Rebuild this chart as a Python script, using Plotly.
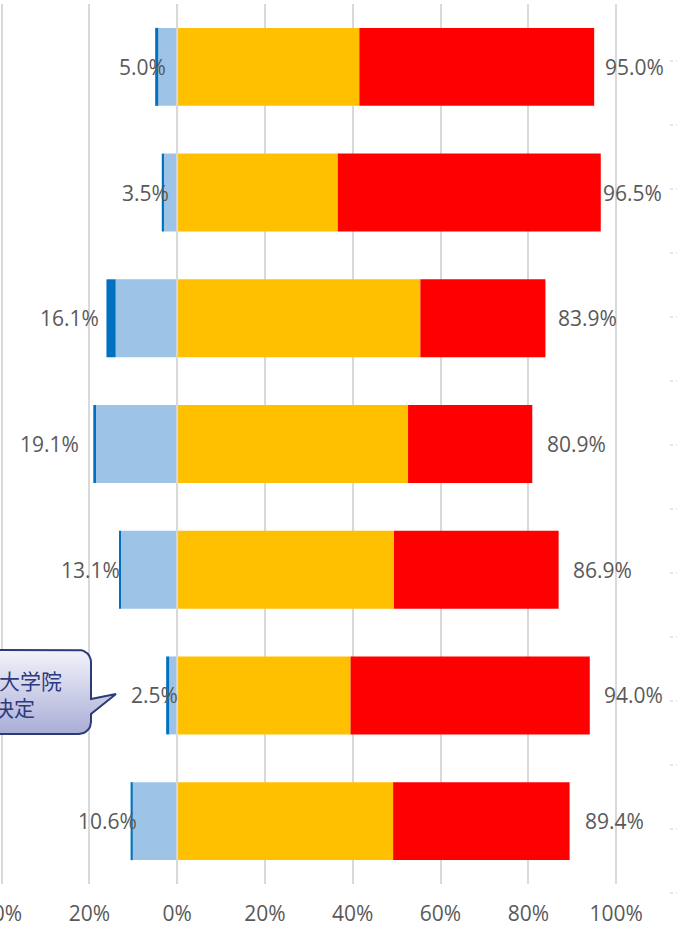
import math
import plotly.graph_objects as go

# Share of respondents per group (percent); rows listed top to bottom
rows = [0, 1, 2, 3, 4, 5, 6]
neg_dark = [0.7, 0.5, 2.1, 0.4, 0.3, 0.7, 0.5]
neg_light = [4.3, 3.0, 14.0, 18.7, 12.8, 1.8, 10.1]
pos_orange = [41.5, 36.6, 55.4, 52.6, 49.4, 39.5, 49.2]
pos_red = [53.5, 59.9, 28.5, 28.3, 37.5, 54.5, 40.2]

tick_vals = [-40, -20, 0, 20, 40, 60, 80, 100]
tick_text = ["40%", "20%", "0%", "20%", "40%", "60%", "80%", "100%"]

# Pixel nudges for the value labels (left side / right side)
left_shift = [13, 9, -5, -12, 2, 14, 8]
right_shift = [9, 0, 11, 13, 12, 12, 13]

W, H = 677, 926
M_T, M_B = 4, 42
X_MIN = -40.35
PX_PER_PCT = 4.39
X_MAX = X_MIN + W / PX_PER_PCT
N = len(rows)
ROW_PX = (H - M_T - M_B) / N

GREY = "#595959"
FONT = "Open Sans"
FS = 21
BAR_W = 0.62


def px_x(px):
    return X_MIN + px / PX_PER_PCT


def px_y(py):
    return (py - M_T) / ROW_PX - 0.5


fig = go.Figure()

fig.add_trace(go.Bar(y=rows, x=[-v for v in neg_light], orientation="h", width=BAR_W,
                     marker=dict(color="#9DC3E6", line=dict(width=0)), hoverinfo="skip"))
fig.add_trace(go.Bar(y=rows, x=[-v for v in neg_dark], orientation="h", width=BAR_W,
                     marker=dict(color="#0070C0", line=dict(width=0)), hoverinfo="skip"))
fig.add_trace(go.Bar(y=rows, x=pos_orange, orientation="h", width=BAR_W,
                     marker=dict(color="#FFC000", line=dict(width=0)), hoverinfo="skip"))
fig.add_trace(go.Bar(y=rows, x=pos_red, orientation="h", width=BAR_W,
                     marker=dict(color="#FF0000", line=dict(width=0)), hoverinfo="skip"))

annotations = []
for i, r in enumerate(rows):
    left_total = neg_dark[i] + neg_light[i]
    right_total = pos_orange[i] + pos_red[i]
    annotations.append(dict(x=-left_total, y=r, xref="x", yref="y", text=f"{left_total:.1f}%",
                            showarrow=False, xanchor="right", yanchor="middle",
                            xshift=left_shift[i], font=dict(family=FONT, size=FS, color=GREY)))
    annotations.append(dict(x=right_total, y=r, xref="x", yref="y", text=f"{right_total:.1f}%",
                            showarrow=False, xanchor="left", yanchor="middle",
                            xshift=right_shift[i], font=dict(family=FONT, size=FS, color=GREY)))

# Speech-bubble callout near the sixth row
bx0, by0, bx1, by1, rad = -80, 650, 91, 734, 12
ptr_top, ptr_bot, tip = 699, 714, (116, 694)
pts = []


def arc(cx, cy, a0, a1, n=8):
    for k in range(n + 1):
        a = math.radians(a0 + (a1 - a0) * k / n)
        pts.append((cx + rad * math.cos(a), cy + rad * math.sin(a)))


pts.append((bx0, by0))
arc(bx1 - rad, by0 + rad, -90, 0)
pts.append((bx1, ptr_top))
pts.append(tip)
pts.append((bx1, ptr_bot))
arc(bx1 - rad, by1 - rad, 0, 90)
pts.append((bx0, by1))
pts.append((bx0, by0))
fig.add_trace(go.Scatter(
    x=[px_x(p[0]) for p in pts], y=[px_y(p[1]) for p in pts],
    mode="lines", fill="toself", line=dict(color="#2E3A78", width=2),
    fillgradient=dict(type="vertical", start=px_y(by0), stop=px_y(by1),
                      colorscale=[[0, "#F3F3FB"], [1, "#A9ADD6"]]),
    hoverinfo="skip", showlegend=False, cliponaxis=False))

CJK = dict(family="Noto Sans CJK JP", size=21, color="#2E3A80")
annotations.append(dict(x=px_x(2), y=px_y(680), xref="x", yref="y", text="大学院",
                        showarrow=False, xanchor="left", yanchor="middle", xshift=-5,
                        font=CJK))
annotations.append(dict(x=px_x(37), y=px_y(707), xref="x", yref="y", text="決定",
                        showarrow=False, xanchor="right", yanchor="middle", font=CJK))

shapes = [dict(type="line", xref="x", yref="paper", x0=0, x1=0, y0=0, y1=1,
               line=dict(color="#D9D9D9", width=2), layer="above")]
# faint separator dashes at the right edge
py = 61
while py < H - 30:
    yp = 1 - (py - M_T) / (H - M_T - M_B)
    shapes.append(dict(type="line", xref="paper", yref="paper", x0=(W - 7) / W, x1=1,
                       y0=yp, y1=yp, line=dict(color="#C8CEE6", width=1, dash="dot")))
    py += 64

fig.update_layout(
    width=W, height=H, barmode="relative", showlegend=False,
    margin=dict(l=0, r=0, t=M_T, b=M_B, autoexpand=False),
    paper_bgcolor="white", plot_bgcolor="white",
    annotations=annotations, shapes=shapes,
    xaxis=dict(range=[X_MIN, X_MAX], tickvals=tick_vals, ticktext=tick_text,
               showgrid=True, gridcolor="#D9D9D9", gridwidth=2, zeroline=False,
               showline=False, ticks="", ticklabelstandoff=15,
               ticklabeloverflow="allow", automargin=False,
               tickfont=dict(family=FONT, size=FS, color=GREY)),
    yaxis=dict(range=[N - 0.5, -0.5], showticklabels=False, showgrid=False,
               zeroline=False, showline=False, ticks="", automargin=False),
)

fig.write_html("out.html")
